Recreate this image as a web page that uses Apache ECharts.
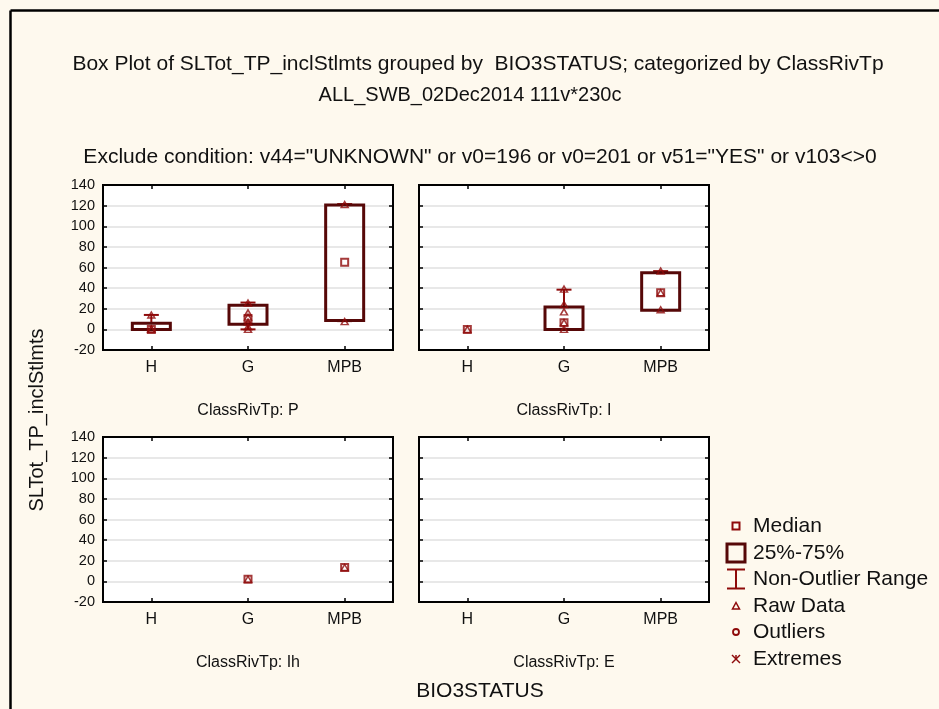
<!DOCTYPE html>
<html>
<head>
<meta charset="utf-8">
<script src="https://cdn.jsdelivr.net/npm/echarts@6/dist/echarts.min.js"></script>
<style>
html,body{margin:0;padding:0;background:#FEF9EE;overflow:hidden;}
#chart{width:939px;height:709px;}
</style>
</head>
<body>
<div id="chart"></div>
<script>
// ---------- data ----------
const categories = ['H', 'G', 'MPB'];
const panelLabels = ['ClassRivTp: P', 'ClassRivTp: I', 'ClassRivTp: Ih', 'ClassRivTp: E'];
const yTicks = { min: -20, max: 140, interval: 20 };

// box stats: [category index, whisker low, q1, median, q3, whisker high]
const boxP  = [[0, 0, 0, 0, 6, 14], [1, 0, 5, 10.5, 23.5, 26], [2, 8, 8.5, 65, 120.5, 121.5]];
const boxI  = [[1, 0, 0, 6.5, 21.8, 38.5], [2, 18.5, 18.5, 35.5, 54.8, 56.5]];
const boxIh = [];
const boxE  = [];

// medians per category (null = no data)
const medianP  = [0, 10.5, 65];
const medianI  = [0, 6.5, 35.5];
const medianIh = [null, 2, 13.5];
const medianE  = [null, null, null];

// raw data per category
const rawP  = [[14, 0.5, 0], [25.5, 16, 12, 7, 2.5, 0], [121, 7.5]];
const rawI  = [[0], [39, 24, 17, 6.5, 0], [56.5, 35.5, 19]];
const rawIh = [[], [2], [13.5]];
const rawE  = [[], [], []];

// ---------- styles ----------
const MARK = '#8E0A0A';
const BOXC = '#560808';
const FONT = '"Liberation Sans", Arial, sans-serif';

const grids = [
  { left: 103, top: 185, width: 290, height: 165 },
  { left: 419, top: 185, width: 290, height: 165 },
  { left: 103, top: 437, width: 290, height: 165 },
  { left: 419, top: 437, width: 290, height: 165 }
];

const boxes = [boxP, boxI, boxIh, boxE];
const medians = [medianP, medianI, medianIh, medianE];
const raws = [rawP, rawI, rawIh, rawE];

const axLine = { show: true, onZero: false, lineStyle: { color: '#000', width: 2 } };
const axTick = { show: true, inside: true, length: 4, lineStyle: { color: '#000', width: 1.5 } };

const xAxes = [], yAxes = [], series = [];
grids.forEach((g, i) => {
  g.show = true; g.backgroundColor = '#fff'; g.borderColor = '#000'; g.borderWidth = 2;
  xAxes.push({
    type: 'category', gridIndex: i, data: categories, position: 'bottom',
    axisLine: axLine,
    axisTick: Object.assign({ alignWithLabel: true }, axTick),
    axisLabel: { color: '#111', fontSize: 16, fontFamily: FONT, margin: 10 },
    name: panelLabels[i], nameLocation: 'middle', nameGap: 53,
    nameTextStyle: { color: '#111', fontSize: 16, fontFamily: FONT },
    splitLine: { show: false }
  });
  xAxes.push({
    type: 'category', gridIndex: i, data: categories, position: 'top',
    axisLine: axLine,
    axisTick: Object.assign({ alignWithLabel: true }, axTick),
    axisLabel: { show: false }, splitLine: { show: false }
  });
  yAxes.push({
    type: 'value', gridIndex: i, min: yTicks.min, max: yTicks.max, interval: yTicks.interval, position: 'left',
    axisLine: axLine,
    axisTick: axTick,
    axisLabel: { show: i % 2 === 0, color: '#111', fontSize: 14.5, fontFamily: FONT, margin: 8 },
    splitLine: { show: true, lineStyle: { color: '#E0E0E0', width: 1.5 } }
  });
  yAxes.push({
    type: 'value', gridIndex: i, min: yTicks.min, max: yTicks.max, interval: yTicks.interval, position: 'right',
    axisLine: axLine,
    axisTick: axTick,
    axisLabel: { show: false }, splitLine: { show: false }
  });

  const xi = i * 2, yi = i * 2;
  series.push({
    type: 'custom', xAxisIndex: xi, yAxisIndex: yi, z: 3,
    data: boxes[i],
    encode: { x: 0, y: [1, 2, 3, 4, 5] },
    renderItem: function (params, api) {
      const c = api.value(0);
      const lo = api.coord([c, api.value(1)]);
      const q1 = api.coord([c, api.value(2)]);
      const q3 = api.coord([c, api.value(4)]);
      const hi = api.coord([c, api.value(5)]);
      const cx = q1[0], bw = 38, cw = 15;
      const ws = { stroke: MARK, lineWidth: 2 };
      return {
        type: 'group',
        children: [
          { type: 'line', shape: { x1: cx, y1: hi[1], x2: cx, y2: q3[1] }, style: ws },
          { type: 'line', shape: { x1: cx, y1: q1[1], x2: cx, y2: lo[1] }, style: ws },
          { type: 'line', shape: { x1: cx - cw / 2, y1: hi[1], x2: cx + cw / 2, y2: hi[1] }, style: ws },
          { type: 'line', shape: { x1: cx - cw / 2, y1: lo[1], x2: cx + cw / 2, y2: lo[1] }, style: ws },
          { type: 'rect', shape: { x: cx - bw / 2, y: q3[1], width: bw, height: q1[1] - q3[1] },
            style: { fill: 'rgba(255,255,255,0)', stroke: BOXC, lineWidth: 3 } }
        ]
      };
    }
  });
  const rawData = [];
  raws[i].forEach((vals, ci) => vals.forEach(v => rawData.push([ci, v])));
  series.push({
    type: 'scatter', xAxisIndex: xi, yAxisIndex: yi, z: 4,
    symbol: 'triangle', symbolSize: [7, 6], data: rawData,
    itemStyle: { color: 'rgba(255,255,255,0)', borderColor: MARK, borderWidth: 1.5 },
    emphasis: { disabled: true }
  });
  const medData = [];
  medians[i].forEach((v, ci) => { if (v !== null) medData.push([ci, v]); });
  series.push({
    type: 'scatter', xAxisIndex: xi, yAxisIndex: yi, z: 5,
    symbol: 'rect', symbolSize: 7, data: medData,
    itemStyle: { color: 'rgba(255,255,255,0)', borderColor: MARK, borderWidth: 2 },
    emphasis: { disabled: true }
  });
});

// ---------- legend & texts (graphic) ----------
const legendItems = ['Median', '25%-75%', 'Non-Outlier Range', 'Raw Data', 'Outliers', 'Extremes'];
const legendY = [526, 553, 579, 606, 632, 659];
const lx = 736;
const graphics = [
  { type: 'rect', z: 100, shape: { x: 934, y: 12, width: 6, height: 700 }, style: { fill: '#FEF9EE' } },
  { type: 'line', z: 101, shape: { x1: 10.5, y1: 10.5, x2: 939, y2: 10.5 }, style: { stroke: '#000', lineWidth: 2.5 } },
  { type: 'line', z: 101, shape: { x1: 10.5, y1: 10.5, x2: 10.5, y2: 709 }, style: { stroke: '#000', lineWidth: 2.5 } },
  { type: 'text', x: 478, y: 64, style: { text: 'Box Plot of SLTot_TP_inclStlmts grouped by  BIO3STATUS; categorized by ClassRivTp', font: '21px ' + FONT, fill: '#111', textAlign: 'center', textVerticalAlign: 'middle' } },
  { type: 'text', x: 470, y: 95, style: { text: 'ALL_SWB_02Dec2014 111v*230c', font: '20px ' + FONT, fill: '#111', textAlign: 'center', textVerticalAlign: 'middle' } },
  { type: 'text', x: 480, y: 157, style: { text: 'Exclude condition: v44="UNKNOWN" or v0=196 or v0=201 or v51="YES" or v103<>0', font: '21px ' + FONT, fill: '#111', textAlign: 'center', textVerticalAlign: 'middle' } },
  { type: 'text', x: 37, y: 420, rotation: Math.PI / 2, style: { text: 'SLTot_TP_inclStlmts', font: '20px ' + FONT, fill: '#111', textAlign: 'center', textVerticalAlign: 'middle' } },
  { type: 'text', x: 480, y: 691, style: { text: 'BIO3STATUS', font: '21px ' + FONT, fill: '#111', textAlign: 'center', textVerticalAlign: 'middle' } },
  // legend symbols
  { type: 'rect', shape: { x: lx - 3.5, y: legendY[0] - 3.5, width: 7, height: 7 }, style: { fill: 'none', stroke: MARK, lineWidth: 2 } },
  { type: 'rect', shape: { x: lx - 9, y: legendY[1] - 9, width: 18, height: 18 }, style: { fill: 'none', stroke: BOXC, lineWidth: 3 } },
  { type: 'polyline', shape: { points: [[lx - 9, legendY[2] - 9.5], [lx + 9, legendY[2] - 9.5]] }, style: { stroke: MARK, lineWidth: 2 } },
  { type: 'polyline', shape: { points: [[lx, legendY[2] - 9.5], [lx, legendY[2] + 9.5]] }, style: { stroke: MARK, lineWidth: 2 } },
  { type: 'polyline', shape: { points: [[lx - 9, legendY[2] + 9.5], [lx + 9, legendY[2] + 9.5]] }, style: { stroke: MARK, lineWidth: 2 } },
  { type: 'polygon', shape: { points: [[lx, legendY[3] - 3.5], [lx + 3.5, legendY[3] + 3], [lx - 3.5, legendY[3] + 3]] }, style: { fill: 'none', stroke: MARK, lineWidth: 1.5 } },
  { type: 'circle', shape: { cx: lx, cy: legendY[4], r: 3 }, style: { fill: 'none', stroke: MARK, lineWidth: 1.8 } },
  { type: 'polyline', shape: { points: [[lx - 4, legendY[5] - 4], [lx + 4, legendY[5] + 4]] }, style: { stroke: MARK, lineWidth: 1.5 } },
  { type: 'polyline', shape: { points: [[lx + 4, legendY[5] - 4], [lx - 4, legendY[5] + 4]] }, style: { stroke: MARK, lineWidth: 1.5 } },
  { type: 'polyline', shape: { points: [[lx, legendY[5] - 4], [lx, legendY[5]]] }, style: { stroke: MARK, lineWidth: 1.5 } }
];
legendItems.forEach((t, k) => {
  graphics.push({ type: 'text', x: 753, y: legendY[k], style: { text: t, font: '21px ' + FONT, fill: '#111', textAlign: 'left', textVerticalAlign: 'middle' } });
});

const chart = echarts.init(document.getElementById('chart'), null, { renderer: 'canvas' });
chart.setOption({
  backgroundColor: '#FEF9EE',
  animation: false,
  grid: grids,
  xAxis: xAxes,
  yAxis: yAxes,
  series: series,
  graphic: graphics
});
</script>
</body>
</html>
